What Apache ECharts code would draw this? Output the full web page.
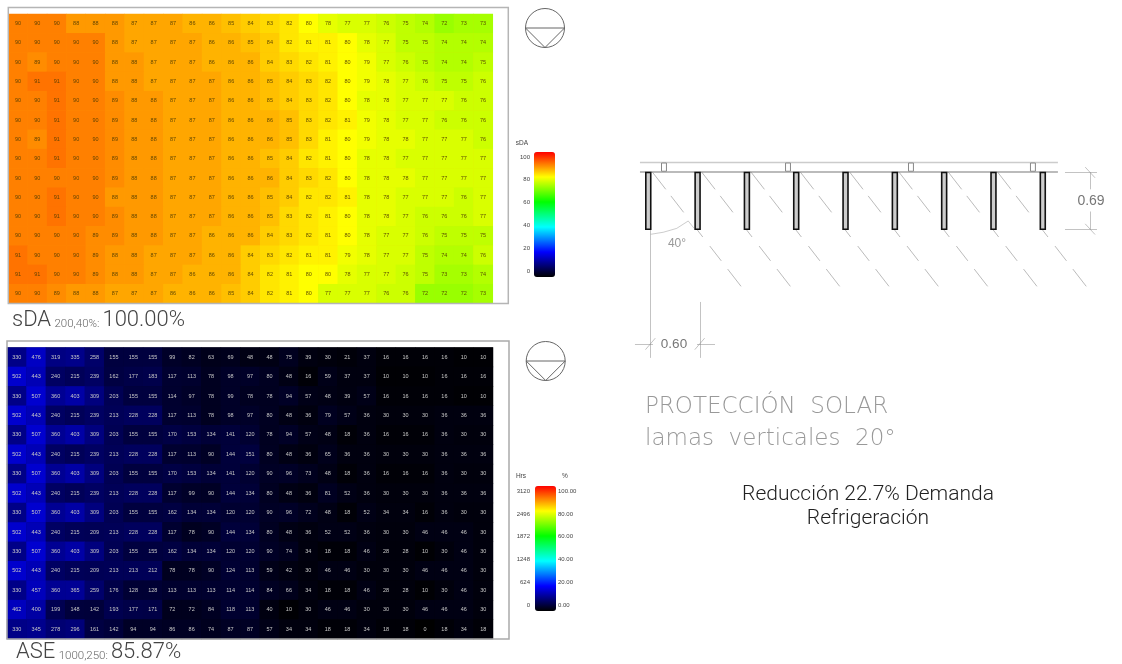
<!DOCTYPE html>
<html><head><meta charset="utf-8">
<style>html,body{margin:0;padding:0;background:#fff}#c{width:1122px;height:664px;filter:blur(0.7px)}</style>
<script src="https://cdn.jsdelivr.net/npm/echarts@6/dist/echarts.min.js"></script>
</head><body><div id="c"></div>
<script>
const sdaRows = [
[90,90,90,88,88,88,87,87,87,86,86,85,84,83,82,80,78,77,77,76,75,74,72,73,73],
[90,90,90,90,90,88,87,87,87,87,86,86,85,84,82,81,81,80,78,77,75,75,74,74,74],
[90,89,90,90,90,88,88,87,87,87,86,86,86,84,83,82,81,80,79,77,76,75,74,74,75],
[90,91,91,90,90,88,88,87,87,87,87,86,86,85,84,83,82,80,79,78,77,76,75,75,76],
[90,90,91,90,90,89,88,88,87,87,87,86,86,85,84,83,82,80,78,78,77,77,77,76,76],
[90,90,91,90,90,89,88,88,87,87,87,86,86,86,85,83,82,81,79,78,77,77,76,76,76],
[90,89,91,90,90,89,88,88,87,87,87,86,86,86,85,83,81,80,79,78,78,77,77,77,76],
[90,90,91,90,90,89,88,88,87,87,87,86,86,85,84,82,81,80,78,78,77,77,77,77,77],
[90,90,90,90,90,89,88,88,87,87,87,86,86,86,84,83,82,80,78,78,78,77,77,77,77],
[90,90,91,90,90,88,88,88,87,87,87,86,86,85,84,82,82,81,78,78,77,77,77,76,77],
[90,90,91,90,90,89,88,88,87,87,87,86,86,85,83,82,81,80,78,78,77,76,76,76,77],
[90,90,90,90,89,89,88,88,87,87,86,86,86,84,83,82,81,80,78,77,77,76,75,75,75],
[91,90,90,90,89,88,88,87,87,87,86,86,84,83,82,81,81,79,78,77,77,75,74,74,76],
[91,91,90,90,89,88,88,87,87,86,86,86,84,82,81,80,80,78,77,77,76,75,73,73,74],
[90,90,89,88,88,87,87,87,86,86,86,85,84,82,81,80,77,77,77,76,76,72,72,72,73]];
const aseRows = [
[330,476,319,335,258,155,155,155,99,82,63,69,48,48,75,39,30,21,37,16,16,16,16,10,10],
[502,443,240,215,239,162,177,183,117,113,78,98,97,80,48,16,59,37,37,10,10,10,16,16,16],
[330,507,360,403,309,203,155,155,114,97,78,99,78,78,94,57,48,39,57,16,16,16,16,10,10],
[502,443,240,215,239,213,228,228,117,113,78,98,97,80,48,36,79,57,36,30,30,30,36,36,36],
[330,507,360,403,309,203,155,155,170,153,134,141,120,78,94,57,48,18,36,16,16,16,36,30,30],
[502,443,240,215,239,213,228,228,117,113,90,144,151,80,48,36,65,36,36,30,30,30,36,36,36],
[330,507,360,403,309,203,155,155,170,153,134,141,120,90,96,73,48,18,36,16,16,16,36,30,30],
[502,443,240,215,239,213,228,228,117,99,90,144,134,80,48,36,81,52,36,30,30,30,36,36,36],
[330,507,360,403,309,203,155,155,162,134,134,120,120,90,96,72,48,18,52,34,34,16,36,30,30],
[502,443,240,215,209,213,228,228,117,78,90,144,134,80,48,36,52,52,36,30,30,46,46,46,30],
[330,507,360,403,309,203,155,155,162,134,134,120,120,90,74,34,18,18,46,28,28,10,30,46,30],
[502,443,240,215,209,213,213,212,78,78,90,124,113,59,42,30,46,46,30,30,30,46,46,46,30],
[330,457,360,365,259,176,128,128,113,113,113,114,114,84,66,34,18,18,46,28,28,10,30,46,30],
[462,400,199,148,142,193,177,171,72,72,84,118,113,40,10,30,46,46,30,30,30,46,46,46,30],
[330,345,278,296,161,142,94,94,86,86,74,87,87,57,34,34,18,18,34,18,18,0,18,34,18]];
const rainbow = ['#000000','#0000ff','#00ffff','#00ff00','#ffff00','#ff0000'];
const sdaMax = 100, hrsMax = 3120, aseMax = 3120;
// drawing data, in centimetres on the section
const louverLeft = [31.4,91.4,151.4,211.4,271.4,331.4,391.4,451.4,511.4];
const louverDepth = 69, louverThick = 6, louverTop = 39.5;
const clipCentres = [53.5,204.4,354,502.4];
const hatchBands = [[0,21],[29,49],[69,79],[90,108],[118,139]];
const hatchSlope = 0.776;

const cols = sdaRows[0].map((_, i) => i);
const rowsIdx = sdaRows.map((_, i) => i);
const cells = m => m.flatMap((r, y) => r.map((v, x) => [x, y, v]));
const hGrid = (xi) => ({
  xAxis: {type:'category',data:cols,show:false,gridIndex:xi},
  yAxis: {type:'category',data:rowsIdx,inverse:true,show:false,gridIndex:xi}
});
function heat(i, data, color) {
  return {type:'heatmap',xAxisIndex:i,yAxisIndex:i,data,silent:true,
    progressive:0,animation:false,emphasis:{disabled:true},
    itemStyle:{borderWidth:0},
    label:{show:true,fontSize:5.5,fontFamily:'Liberation Sans',color,formatter:p=>p.value[2]}};
}
const t1 = hGrid(0), t2 = hGrid(1);

const seg = [];
const rails = [[24.3,27.6,532.8,27.6,1.3,'#999'],[24.3,38.9,532.8,38.9,2.2,'#777']];
rails.forEach(r => seg.push({coords:[[r[0],r[1]],[r[2],r[3]]],lineStyle:{width:r[4],color:r[5]}}));
const hatch = [];
louverLeft.slice(0,8).forEach(x0 => hatchBands.forEach(b => {
  hatch.push({coords:[[x0+8+b[0]*hatchSlope,39+b[0]],[x0+8+b[1]*hatchSlope,39+b[1]]]});
}));
const dims = [
 [[37.3,108.3],[37.3,197]],[[37.3,197],[37.3,265]],[[97.3,197],[97.3,265]],
 [[18.2,248],[40.1,248]],[[93.7,248],[115.6,248]],
 [[31,255],[43,241]],[[91,255],[103,241]],
 [[541.4,39.5],[580.3,39.5]],[[541.4,108.3],[580.3,108.3]],
 [[571.8,39.5],[571.8,60]],[[571.8,87],[571.8,108.3]],
 [[566,33],[578,46]],[[566,102],[578,115]]
];
const arc = [[37.3,114.7],[52.7,112.2],[69,107.5],[83,98.5],[90,107.3]];

const louverData = louverLeft.map(x => [x, louverTop, louverThick, louverDepth, 1]);
const clipData = clipCentres.map(x => [x-3, 28, 6, 10, 0]);

const compass = (cx, cy) => ([
  {type:'circle',shape:{cx,cy,r:19.5},style:{fill:'none',stroke:'#666',lineWidth:1},silent:true},
  {type:'polyline',shape:{points:[[cx-19.5,cy],[cx+19.5,cy],[cx,cy+19.5],[cx-19.5,cy]]},style:{fill:'none',stroke:'#666',lineWidth:1},silent:true}
]);
const txt = (x,y,text,font,size,fill,weight,align) => ({type:'text',x,y,silent:true,style:{text,fontFamily:font,fontSize:size,fill,fontWeight:weight||'normal',align:align||'left',verticalAlign:'middle'}});
const rich = (x,y,a,b,c) => ({type:'text',x,y,silent:true,style:{
  text:`{a|${a}} {b|${b}}{a|${c}}`,verticalAlign:'middle',
  rich:{a:{fontFamily:'Roboto',fontWeight:300,fontSize:22,fill:'#444',verticalAlign:'bottom'},
        b:{fontFamily:'Roboto',fontWeight:300,fontSize:11.5,fill:'#666',verticalAlign:'bottom',padding:[0,3,1,0]}}}});

const option = {
  backgroundColor:'#fff',animation:false,
  grid:[
    {left:8.3,top:14,width:484.5,height:289.5,show:true,backgroundColor:'#ffb000',borderWidth:0},
    {left:7,top:347.5,width:486,height:291.5,show:true,backgroundColor:'#000010',borderWidth:0},
    {left:534,top:157,width:21,height:114},
    {left:535,top:491,width:21,height:114.5},
    {left:620,top:140,width:480,height:220}
  ],
  xAxis:[t1.xAxis,t2.xAxis,
    {type:'value',show:false,gridIndex:2,min:0,max:1},
    {type:'value',show:false,gridIndex:3,min:0,max:1},
    {type:'value',show:false,gridIndex:4,min:0,max:584}],
  yAxis:[t1.yAxis,t2.yAxis,
    {type:'value',gridIndex:2,min:0,max:sdaMax,interval:20,name:'sDA',nameGap:10,
      nameTextStyle:{fontSize:6.5,color:'#444',fontFamily:'Liberation Sans',align:'right',padding:[0,6,0,0]},
      axisLine:{show:false},axisTick:{show:false},splitLine:{show:false},
      axisLabel:{fontSize:6,color:'#444',margin:4,fontFamily:'Liberation Sans'}},
    {type:'value',gridIndex:3,position:'left',min:0,max:hrsMax,interval:624,name:'Hrs',nameGap:11,
      nameTextStyle:{fontSize:6.5,color:'#444',fontFamily:'Liberation Sans',align:'right',padding:[0,9,0,0]},
      axisLine:{show:false},axisTick:{show:false},splitLine:{show:false},
      axisLabel:{fontSize:6,color:'#444',margin:5,fontFamily:'Liberation Sans',formatter:v=>String(v)}},
    {type:'value',gridIndex:3,position:'right',min:0,max:100,interval:20,name:'%',nameGap:11,
      nameTextStyle:{fontSize:6.5,color:'#444',fontFamily:'Liberation Sans',align:'left',padding:[0,0,0,6]},
      axisLine:{show:false},axisTick:{show:false},splitLine:{show:false},
      axisLabel:{fontSize:6,color:'#444',margin:2,fontFamily:'Liberation Sans',formatter:v=>v.toFixed(2)}},
    {type:'value',show:false,gridIndex:4,min:0,max:267.6,inverse:true}],
  visualMap:[
    {type:'continuous',seriesIndex:0,dimension:2,min:0,max:sdaMax,show:true,calculable:false,hoverLink:false,
      left:534,top:152,itemWidth:21,itemHeight:125,padding:0,text:null,inRange:{color:rainbow},silent:true},
    {type:'continuous',seriesIndex:1,dimension:2,min:0,max:aseMax,show:true,calculable:false,hoverLink:false,
      left:535,top:486,itemWidth:21,itemHeight:125,padding:0,text:null,inRange:{color:rainbow},silent:true}
  ],
  series:[
    heat(0,cells(sdaRows),'rgba(80,60,0,0.9)'),
    heat(1,cells(aseRows),'#c8c8c8'),
    {type:'custom',xAxisIndex:2,yAxisIndex:2,data:[],renderItem:()=>null},
    {type:'custom',xAxisIndex:3,yAxisIndex:3,data:[],renderItem:()=>null},
    {type:'lines',coordinateSystem:'cartesian2d',xAxisIndex:4,yAxisIndex:5,silent:true,z:3,data:seg},
    {type:'lines',coordinateSystem:'cartesian2d',xAxisIndex:4,yAxisIndex:5,silent:true,z:2,data:hatch,lineStyle:{color:'#777',width:1}},
    {type:'lines',coordinateSystem:'cartesian2d',xAxisIndex:4,yAxisIndex:5,silent:true,z:2,data:dims.map(c=>({coords:c})),lineStyle:{color:'#888',width:1}},
    {type:'lines',coordinateSystem:'cartesian2d',polyline:true,xAxisIndex:4,yAxisIndex:5,silent:true,z:2,data:[{coords:arc}],lineStyle:{color:'#999',width:1}},
    {type:'custom',coordinateSystem:'cartesian2d',xAxisIndex:4,yAxisIndex:5,silent:true,z:5,data:louverData.concat(clipData),
      renderItem:(p,api)=>{
        const a=api.coord([api.value(0),api.value(1)]),b=api.coord([api.value(0)+api.value(2),api.value(1)+api.value(3)]);
        const strong=api.value(4)===1;
        return {type:'rect',shape:{x:a[0],y:a[1],width:b[0]-a[0],height:b[1]-a[1]},
          style:{fill:strong?'#ccc':'#fff',stroke:strong?'#111':'#888',lineWidth:strong?1.6:1}};
      }}
  ],
  graphic:[
    {type:'rect',shape:{x:8.3,y:7.5,width:500,height:296},style:{fill:'none',stroke:'#b5b5b5',lineWidth:1.5},z:10,silent:true},
    {type:'rect',shape:{x:7,y:341,width:502,height:298},style:{fill:'none',stroke:'#aaa',lineWidth:1.5},z:10,silent:true},
    ...compass(545,28),...compass(545.7,361),
    rich(12,320,'sDA','200,40%:','100.00%'),
    rich(16,652,'ASE','1000,250:','85.87%'),
    txt(674,344,'0.60','Liberation Sans',13.5,'#777','normal','center'),
    txt(677,244,'40°','Liberation Sans',12,'#999','normal','center'),
    txt(1091,201,'0.69','Liberation Sans',14,'#777','normal','center'),
    txt(645,407,'PROTECCIÓN  SOLAR','DejaVu Sans',23,'#999',200),
    txt(645,439,'lamas  verticales  20°','DejaVu Sans',23,'#999',200),
    txt(868,495,'Reducción 22.7% Demanda','Roboto',21,'#222',300,'center'),
    txt(868,519,'Refrigeración','Roboto',21,'#222',300,'center')
  ]
};
echarts.init(document.getElementById('c'),null,{renderer:'canvas'}).setOption(option);
</script></body></html>
